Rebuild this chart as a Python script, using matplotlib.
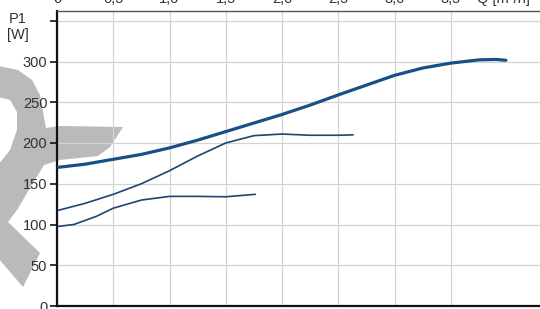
import numpy as np
import matplotlib
matplotlib.use('Agg')
import matplotlib.pyplot as plt
from matplotlib.patches import Polygon

plt.rcParams['font.family'] = ['Liberation Sans', 'DejaVu Sans']

# Q [m3/h] -> P1 [W]
q_top = [0, 0.25, 0.5, 0.75, 1.0, 1.25, 1.5, 1.75, 2.0, 2.25, 2.5, 2.75, 3.0, 3.25, 3.5, 3.75, 3.9, 3.99]
p_top = [170, 174, 180, 186, 194, 203.5, 214, 224.5, 235, 246.5, 259, 271, 283, 292, 298, 302, 302.5, 301.5]

q_mid = [0, 0.25, 0.5, 0.75, 1.0, 1.25, 1.5, 1.75, 2.0, 2.25, 2.5, 2.63]
p_mid = [117, 126, 137, 150, 166, 184, 200, 209, 211, 209.5, 209.5, 210]

q_low = [0, 0.15, 0.35, 0.5, 0.75, 1.0, 1.25, 1.5, 1.76]
p_low = [97.5, 100, 110, 120, 130, 134.5, 134.5, 134, 137]

x_ticks = [0, 0.5, 1.0, 1.5, 2.0, 2.5, 3.0, 3.5]
x_labels = ['0', '0,5', '1,0', '1,5', '2,0', '2,5', '3,0', '3,5']
y_ticks = [0, 50, 100, 150, 200, 250, 300, 350]
y_labels = ['0', '50', '100', '150', '200', '250', '300', '']

W, H = 540, 309
fig = plt.figure(figsize=(W / 100, H / 100), dpi=100)


def px(x, y):
    return (x / W, 1 - y / H)


# grey logo watermark behind the chart (pixel outline)
logo = [(-2, 66), (18, 70), (32, 80), (40, 95), (43, 112), (46, 128), (60, 126),
        (123, 127), (110, 147), (98, 156), (60, 160), (44, 165), (30, 188), (17, 210),
        (8, 222), (40, 253), (23, 287), (-2, 258), (-2, 165), (10, 150), (17, 130),
        (17, 112), (10, 100), (-2, 97)]
fig.add_artist(Polygon([px(*p) for p in logo], closed=True, transform=fig.transFigure,
                       facecolor='#bababa', lw=0, zorder=0))

ax = fig.add_axes([57 / W, 1 - 306 / H, 1 - 57 / W, (306 - 11) / H])
ax.patch.set_alpha(0)
ax.set_xlim(0, (W - 57) / 112.5)
ax.set_ylim(0, 295 / 0.815)

ax.plot(q_top, p_top, color='#1a4f86', lw=2.3, solid_capstyle='round', zorder=3)
ax.plot(q_mid, p_mid, color='#1d456f', lw=1.2, zorder=3)
ax.plot(q_low, p_low, color='#1d456f', lw=1.2, zorder=3)

ax.set_yticks(y_ticks)
ax.set_yticklabels(y_labels, fontsize=10.5, color='#333333')
ax.set_xticks(x_ticks)
ax.tick_params(axis='y', direction='out', length=5, width=1.3, color='#222222', pad=2)
ax.tick_params(axis='x', length=0, labelbottom=False)
ax.grid(True, color='#d4d4d4', lw=0.9)
ax.set_axisbelow(True)

for s in ['left', 'bottom']:
    ax.spines[s].set_color('#111111')
    ax.spines[s].set_linewidth(1.6)
ax.spines['top'].set_color('#555555')
ax.spines['top'].set_linewidth(1.0)
ax.spines['right'].set_visible(False)

# axis title
fig.text(18 / W, 1 - 27 / H, 'P1\n[W]', ha='center', va='center', fontsize=10.5,
         color='#333333', linespacing=1.1)

# x tick labels of the chart above, cut by the top edge
for q, lab in zip(x_ticks, x_labels):
    fig.text(px(57 + q * 112.5, 0)[0], 1 - 3 / H, lab, ha='center', va='baseline',
             fontsize=10.5, color='#333333')
fig.text(477 / W, 1 - 3 / H, 'Q [m³/h]', ha='left', va='baseline', fontsize=10.5, color='#333333')

fig.savefig('out.png', dpi=100)
